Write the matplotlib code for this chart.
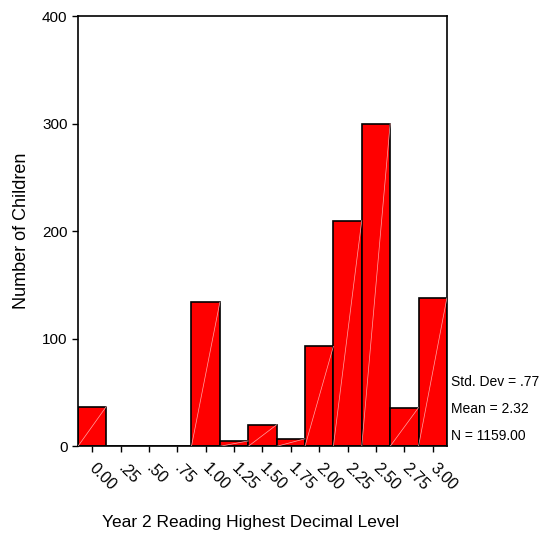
import matplotlib
matplotlib.use("Agg")
import matplotlib.pyplot as plt
import matplotlib.transforms as mtransforms

plt.rcParams['font.family'] = ['Liberation Sans', 'DejaVu Sans']

# Histogram data (bin centres and counts)
levels = [0.00, 0.25, 0.50, 0.75, 1.00, 1.25, 1.50, 1.75, 2.00, 2.25, 2.50, 2.75, 3.00]
counts = [37, 0, 0, 0, 134, 5, 20, 7, 93, 210, 300, 36, 138]
tick_labels = ["0.00", ".25", ".50", ".75", "1.00", "1.25", "1.50", "1.75",
               "2.00", "2.25", "2.50", "2.75", "3.00"]
stats = ["Std. Dev = .77", "Mean = 2.32", "N = 1159.00"]

width = 0.25

fig = plt.figure(figsize=(5.45, 5.41), dpi=100)
ax = fig.add_axes([0.143, 0.175, 0.677, 0.795])

ax.bar(levels, counts, width=width, color="#ff0000", edgecolor="black",
       linewidth=1.2, zorder=2)

# faint diagonal streak inside each bar
for x, c in zip(levels, counts):
    if c > 0:
        ax.plot([x - width / 2, x + width / 2], [0, c], color="#ffa8a8",
                linewidth=0.5, zorder=3)

ax.set_xlim(-0.125, 3.125)
ax.set_ylim(0, 400)
ax.set_yticks([0, 100, 200, 300, 400])
ax.set_xticks(levels)
ax.set_xticklabels([])
ax.tick_params(axis="y", labelsize=11, length=4, width=1)
ax.tick_params(axis="x", length=4, width=1)

# rotated tick labels, set a little right of each tick
base = mtransforms.blended_transform_factory(ax.transData, ax.transAxes)
shift = mtransforms.ScaledTranslation(5 / 100, -14 / 100, fig.dpi_scale_trans)
for x, lab in zip(levels, tick_labels):
    ax.text(x, 0, lab, transform=base + shift, rotation=-45,
            rotation_mode="anchor", ha="left", va="top", fontsize=11.5,
            clip_on=False)

for s in ax.spines.values():
    s.set_linewidth(1.2)

ax.set_ylabel("Number of Children", fontsize=13, labelpad=9)
fig.text(251 / 545, 1 - 523 / 541, "Year 2 Reading Highest Decimal Level",
         ha="center", va="center", fontsize=12.5)

for i, s in enumerate(stats):
    ax.text(1.012, (446 - 382 - i * 27) / 430, s, transform=ax.transAxes,
            ha="left", va="center", fontsize=10)

fig.savefig("out.png", dpi=100)
